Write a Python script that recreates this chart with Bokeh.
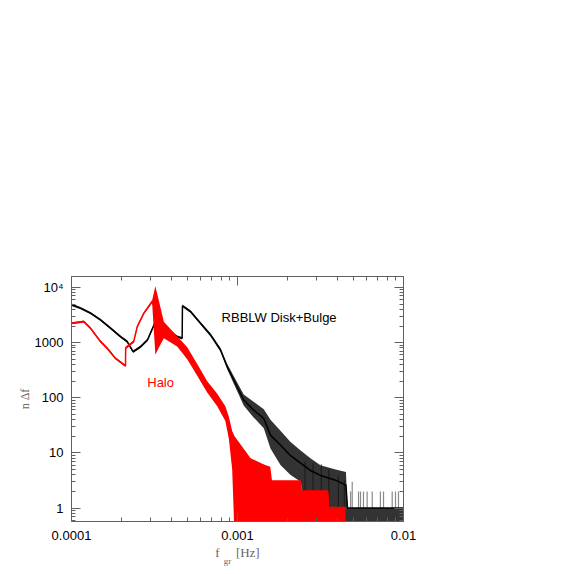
from bokeh.plotting import figure
from bokeh.models import LogAxis, FixedTicker, Label
from bokeh.embed import file_html
from bokeh.resources import INLINE

# ---------------- data ----------------
# RBBLW Disk+Bulge (black): frequency [Hz], central value, lower / upper envelope of the noise
db_f = [1.0e-4, 1.133e-4, 1.302e-4, 1.495e-4, 1.718e-4, 1.973e-4, 2.165e-4, 2.35e-4,
        2.61e-4, 2.87e-4, 3.2e-4, 3.77e-4, 4.33e-4, 4.64e-4, 4.66e-4, 5.21e-4, 5.98e-4,
        6.88e-4, 7.9e-4, 8.67e-4, 9.5e-4, 1.09e-3, 1.25e-3, 1.44e-3, 1.58e-3, 1.82e-3,
        2.08e-3, 2.4e-3, 2.75e-3, 3.16e-3, 3.9e-3, 4.5e-3, 4.6e-3, 1.0e-2]
db_mid = [4850, 4220, 3430, 2590, 1830, 1285, 1043, 686,
          846, 1120, 2380, 1700, 1285, 1200, 4650, 3660, 2250,
          1380, 736, 366, 210, 91, 60, 42, 21, 13.8,
          9, 6.5, 4.8, 3.9, 3.2, 2.6, 1.0, 1.0]
db_lo = [4600, 4020, 3270, 2470, 1740, 1220, 990, 650,
         800, 1065, 2250, 1610, 1220, 1140, 4420, 3470, 2120,
         1290, 680, 330, 180, 72, 44, 28, 12, 6,
         4, 3, 0.3, 0.3, 0.3, 0.3, 0.3, 0.3]
db_hi = [5100, 4430, 3600, 2720, 1920, 1350, 1100, 720,
         890, 1180, 2500, 1790, 1350, 1260, 4900, 3850, 2380,
         1470, 800, 410, 245, 115, 85, 62, 40, 25,
         16, 11, 8, 6, 5, 4.5, 1.0, 1.0]
# isolated spikes of the Disk+Bulge curve
db_spike_f = [2.55e-3, 2.85e-3, 3.2e-3, 3.55e-3, 4.05e-3, 4.4e-3,
              4.80e-3, 4.91e-3, 5.36e-3, 5.51e-3, 5.74e-3, 6.04e-3, 6.48e-3,
              7.26e-3, 7.58e-3, 8.55e-3, 8.95e-3, 9.33e-3]
db_spike_top = [7, 6.5, 6.3, 5, 3.9, 3.2,
                2, 3, 2, 2, 2, 2, 2, 2, 2, 2, 2, 2]

# Halo (red)
halo_f = [1.0e-4, 1.186e-4, 1.30e-4, 1.495e-4, 1.64e-4, 1.84e-4, 2.115e-4, 2.12e-4,
          2.37e-4, 2.49e-4, 2.73e-4, 3.06e-4, 3.2e-4, 3.35e-4, 3.6e-4, 4.33e-4,
          4.98e-4, 5.72e-4, 6.57e-4, 7.55e-4, 8.45e-4, 8.87e-4, 9.29e-4, 9.6e-4,
          1.0e-3, 1.2e-3, 1.56e-3, 1.6e-3, 2.4e-3, 2.42e-3, 3.5e-3, 3.55e-3, 4.48e-3]
halo_mid = [2250, 2410, 1830, 1043, 791, 520, 377, 800,
            1043, 1955, 3430, 5560, 4000, 2500, 1700, 1043,
            641, 319, 158, 91, 52, 29.7, 11.2, 14,
            12, 7, 5.5, 3, 3, 2, 2, 1, 1]
halo_lo = [2150, 2300, 1740, 990, 750, 495, 360, 760,
           990, 1850, 3250, 5250, 600, 800, 1200, 850,
           500, 250, 125, 70, 38, 18, 5, 0.3,
           0.3, 0.3, 0.3, 0.3, 0.3, 0.3, 0.3, 0.3, 0.3]
halo_hi = [2350, 2520, 1920, 1100, 830, 545, 395, 840,
           1100, 2060, 3600, 5850, 10500, 6000, 2400, 1300,
           820, 410, 200, 118, 70, 45, 25, 20,
           17, 8, 5.5, 3.2, 3.2, 2.1, 2.1, 1.05, 1.05]

x_ticks = [1e-4, 1e-3, 1e-2]
x_tick_labels = ["0.0001", "0.001", "0.01"]
y_ticks = [1, 10, 100, 1000, 10000]
y_tick_labels = ["1", "10", "100", "1000", "10\u2074"]

x_minor = [m * 10.0 ** e for e in (-4, -3) for m in range(2, 10)]
y_minor = [m * 10.0 ** e for e in range(-1, 5) for m in range(2, 10)]

AX = "#606060"
TITLE_GREY = "#666666"
SANS = "Liberation Sans"
SERIF = "Liberation Serif"

p = figure(frame_width=332, frame_height=245,
           x_axis_type="log", y_axis_type="log",
           x_range=(1e-4, 1e-2), y_range=(0.57, 15800),
           output_backend="svg", toolbar_location=None,
           min_border_left=71, min_border_top=276,
           min_border_right=150, min_border_bottom=45)
p.grid.visible = False
p.outline_line_color = None
p.background_fill_color = "white"
p.border_fill_color = "white"

# data
p.segment(x0=db_spike_f, y0=[1] * len(db_spike_f), x1=db_spike_f, y1=db_spike_top,
          line_color="#8a8a8a", line_width=1.2)
p.varea(x=db_f, y1=db_lo, y2=db_hi, fill_color="black", fill_alpha=0.8)
p.line(db_f, db_mid, line_color="black", line_width=1.5)
p.varea(x=halo_f, y1=halo_lo, y2=halo_hi, fill_color="#ff0000", fill_alpha=1.0)
p.line(halo_f, halo_mid, line_color="#ff0000", line_width=1.5)


def style_axis(ax, ticks, minors, labels, show_labels=True):
    ax.ticker = FixedTicker(ticks=ticks, minor_ticks=minors)
    ax.axis_line_color = AX
    ax.major_tick_line_color = AX
    ax.minor_tick_line_color = AX
    ax.major_tick_in = 9
    ax.major_tick_out = 0
    ax.minor_tick_in = 4
    ax.minor_tick_out = 0
    ax.major_label_text_font = SANS
    ax.major_label_text_font_size = "13px"
    ax.major_label_text_color = "black" if show_labels else None
    ax.major_label_overrides = {t: (l if show_labels else "") for t, l in zip(ticks, labels)}


xa = p.xaxis[0]
style_axis(xa, x_ticks, x_minor, x_tick_labels)
xa.major_label_standoff = 9
xa.axis_label = "f\u00a0\u00a0\u00a0\u00a0\u00a0[Hz]"
xa.axis_label_text_font = SERIF
xa.axis_label_text_font_size = "13px"
xa.axis_label_text_font_style = "normal"
xa.axis_label_text_color = TITLE_GREY
xa.axis_label_standoff = 2

# subscript "gr" of the x title, drawn as the single label of an extra bare axis
sub_ticks = [8.7e-4]
sub_labels = ["gr"]
sub = LogAxis(ticker=FixedTicker(ticks=sub_ticks, minor_ticks=[]),
              major_label_overrides=dict(zip(sub_ticks, sub_labels)),
              axis_line_color=None, major_tick_line_color=None, minor_tick_line_color=None,
              major_label_text_font=SERIF, major_label_text_font_size="9px",
              major_label_text_color=TITLE_GREY, major_label_standoff=-13)
p.add_layout(sub, "below")

ya = p.yaxis[0]
style_axis(ya, y_ticks, y_minor, y_tick_labels)
ya.major_label_standoff = 8
ya.axis_label = "n \u0394f"
ya.axis_label_text_font = SERIF
ya.axis_label_text_font_size = "12px"
ya.axis_label_text_font_style = "normal"
ya.axis_label_text_color = TITLE_GREY
ya.axis_label_standoff = 0

top = LogAxis()
style_axis(top, x_ticks, x_minor, x_tick_labels, show_labels=False)
p.add_layout(top, "above")
right = LogAxis()
style_axis(right, y_ticks, y_minor, y_tick_labels, show_labels=False)
p.add_layout(right, "right")

# annotations
p.add_layout(Label(x=8.02e-4, y=2813, text="RBBLW Disk+Bulge", text_font=SANS,
                   text_font_size="13px", text_color="black", text_baseline="middle",
                   text_align="left"))
p.add_layout(Label(x=2.86e-4, y=187, text="Halo", text_font=SANS,
                   text_font_size="13px", text_color="#ff0000", text_baseline="middle",
                   text_align="left"))

open("out.html", "w").write(file_html(p, INLINE))
